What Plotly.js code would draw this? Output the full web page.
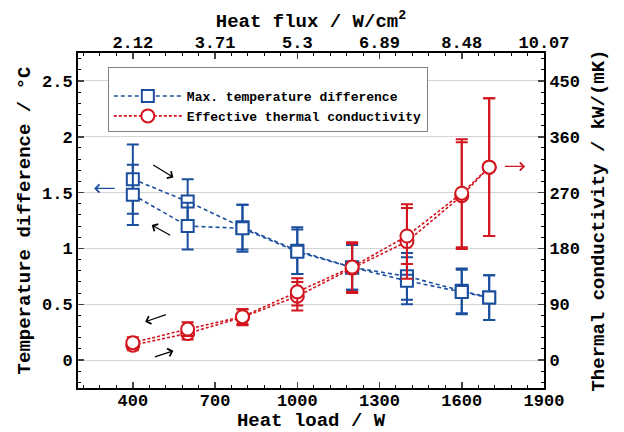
<!DOCTYPE html>
<html><head><meta charset="utf-8">
<script src="https://cdn.plot.ly/plotly-3.0.1.min.js"></script>
<style>html,body{margin:0;padding:0;background:#fff}#chart{width:624px;height:432px}</style>
</head><body><div id="chart"></div>
<script>
// Data
const heatLoad = [400, 600, 800, 1000, 1200, 1400, 1600, 1700];
const tempDiffInc = [1.62, 1.42, 1.19, 0.98, 0.83, 0.75, 0.62, 0.56];
const tempDiffIncErr = [0.31, 0.20, 0.20, 0.21, 0.20, 0.21, 0.20, 0.20];
const tempDiffDec = [1.48, 1.20, 1.18, 0.97, 0.83, 0.71, 0.61, 0.56];
const tempDiffDecErr = [0.27, 0.21, 0.21, 0.20, 0.20, 0.21, 0.20, 0.20];
const condInc = [24, 43, 69, 103, 148, 191, 265, 311];
const condIncErr = [8, 10, 13, 23, 40, 60, 86, 111];
const condDec = [28, 50, 70, 110, 150, 200, 269, 311];
const condDecErr = [9, 11, 12, 22, 40, 45, 87, 111];
const loadTicks = [400, 700, 1000, 1300, 1600, 1900];
const fluxLabels = ['2.12', '3.71', '5.3', '6.89', '8.48', '10.07'];

const BLUE = '#1b4f9e';
const RED = '#d2151e';
const FONT = 'Liberation Mono, Courier New, monospace';

function blueTrace(y, e, show) {
  return {
    x: heatLoad, y: y, type: 'scatter', mode: 'lines+markers',
    name: 'Max. temperature difference', showlegend: show, legendrank: 1,
    line: {color: BLUE, width: 1.6, dash: '4px,3px'},
    marker: {symbol: 'square', size: 12, color: '#ffffff', line: {color: BLUE, width: 2}},
    error_y: {type: 'data', array: e, visible: true, color: BLUE, thickness: 2, width: 6},
    xaxis: 'x', yaxis: 'y'
  };
}
function redTrace(y, e, show) {
  return {
    x: heatLoad, y: y, type: 'scatter', mode: 'lines+markers',
    name: 'Effective thermal conductivity', showlegend: show, legendrank: 2,
    line: {color: RED, width: 1.6, dash: '3px,2px'},
    marker: {symbol: 'circle', size: 13, color: '#ffffff', line: {color: RED, width: 2}},
    error_y: {type: 'data', array: e, visible: true, color: RED, thickness: 2, width: 6},
    xaxis: 'x', yaxis: 'y2'
  };
}

const traces = [
  redTrace(condInc, condIncErr, true),
  redTrace(condDec, condDecErr, false),
  blueTrace(tempDiffInc, tempDiffIncErr, true),
  blueTrace(tempDiffDec, tempDiffDecErr, false),
  {x: loadTicks, y: loadTicks.map(() => null), xaxis: 'x2', yaxis: 'y', showlegend: false, hoverinfo: 'skip', type: 'scatter', mode: 'markers'}
];

function arrow(x, y, ax, ay, color, yref) {
  return {x: x, y: y, ax: ax, ay: ay, xref: 'x', yref: yref || 'y', axref: 'x', ayref: yref || 'y',
    text: '', showarrow: true, arrowhead: 4, arrowsize: 1.3, arrowwidth: 1.2, arrowcolor: color, standoff: 0, startstandoff: 0};
}

const tickFont = {family: FONT, size: 17, color: '#000', weight: 'bold'};
const titleFont = {family: FONT, size: 19, color: '#000', weight: 'bold'};

const layout = {
  width: 624, height: 432,
  margin: {l: 78, r: 80, t: 53, b: 44},
  paper_bgcolor: '#fff', plot_bgcolor: '#fff',
  font: {family: FONT, color: '#000'},
  showlegend: true,
  legend: {x: 0.064, y: 0.958, xanchor: 'left', yanchor: 'top', bgcolor: '#fff',
    bordercolor: '#808080', borderwidth: 1, font: {family: FONT, size: 13, weight: 'bold', color: '#000'},
    title: {text: ' ', font: {size: 10}},
    itemwidth: 68, tracegroupgap: 2, traceorder: 'normal'},
  xaxis: {range: [200, 1900], tickvals: loadTicks, ticks: 'inside', ticklen: 6, tickwidth: 1.5,
    minor: {dtick: 60, tick0: 400, ticks: 'inside', ticklen: 3, tickwidth: 1, tickcolor: '#000', showgrid: false},
    showline: true, linecolor: '#000', linewidth: 2, showgrid: false, zeroline: false, ticklabelstandoff: -4,
    tickfont: tickFont, title: {text: 'Heat load / W', font: titleFont, standoff: 7}},
  xaxis2: {overlaying: 'x', side: 'top', range: [200, 1900], tickvals: loadTicks, ticktext: fluxLabels,
    ticks: 'inside', ticklen: 6, tickwidth: 1.5, ticklabelstandoff: -4,
    minor: {dtick: 60, tick0: 400, ticks: 'inside', ticklen: 3, tickwidth: 1, tickcolor: '#000', showgrid: false},
    showline: true, linecolor: '#000', linewidth: 2, showgrid: false, zeroline: false,
    tickfont: tickFont, title: {text: 'Heat flux / W/cm<sup>2</sup>', font: titleFont, standoff: 2}},
  yaxis: {range: [-0.25, 2.75], tickvals: [0, 0.5, 1, 1.5, 2, 2.5], ticktext: ['0', '0.5', '1', '1.5', '2', '2.5'],
    ticks: 'inside', ticklen: 6, tickwidth: 1.5,
    minor: {dtick: 0.1, tick0: 0, ticks: 'inside', ticklen: 3, tickwidth: 1, tickcolor: '#000', showgrid: false},
    showline: true, linecolor: '#000', linewidth: 2, showgrid: true, gridcolor: '#d4d4d4', gridwidth: 1, zeroline: false,
    tickfont: tickFont, title: {text: 'Temperature difference / °C', font: titleFont, standoff: 6}},
  yaxis2: {overlaying: 'y', side: 'right', range: [-45, 495], tickvals: [0, 90, 180, 270, 360, 450],
    ticks: 'inside', ticklen: 6, tickwidth: 1.5,
    minor: {dtick: 18, tick0: 0, ticks: 'inside', ticklen: 3, tickwidth: 1, tickcolor: '#000', showgrid: false},
    showline: true, linecolor: '#000', linewidth: 2, showgrid: false, zeroline: false,
    tickfont: tickFont, title: {text: 'Thermal conductivity / kW/(mK)', font: titleFont, standoff: 12}},
  annotations: [
    arrow(548, 1.636, 469, 1.755, '#000'),
    arrow(469, 1.209, 542, 1.11, '#000'),
    arrow(445, 0.343, 526, 0.412, '#000'),
    arrow(548, 0.083, 475, 0.024, '#000'),
    arrow(259, 1.537, 339, 1.537, BLUE),
    arrow(1831, 1.734, 1752, 1.734, RED)
  ]
};

Plotly.newPlot('chart', traces, layout, {staticPlot: true, displayModeBar: false});
</script>
</body></html>
